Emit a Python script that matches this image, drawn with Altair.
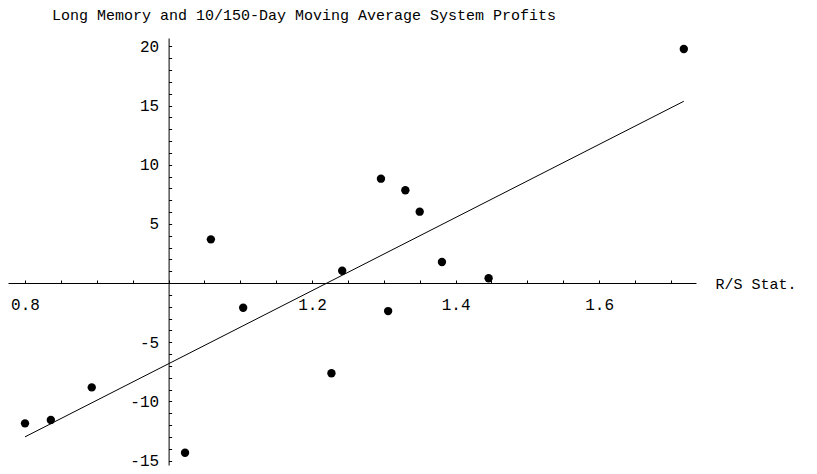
import altair as alt
import pandas as pd

# R/S statistic (x) and 10/150-day moving average system profit (y)
rs_stat = [0.800, 0.836, 0.893, 1.023, 1.059, 1.104, 1.227, 1.242, 1.296, 1.306,
           1.330, 1.350, 1.381, 1.446, 1.718]
profits = [-11.86, -11.58, -8.82, -14.34, 3.69, -2.09, -7.63, 1.04, 8.82, -2.37,
           7.84, 6.03, 1.78, 0.40, 19.78]

x_ticks = [0.8, 0.85, 0.9, 0.95, 1.0, 1.05, 1.1, 1.15, 1.2, 1.25, 1.3, 1.35,
           1.4, 1.45, 1.5, 1.55, 1.6, 1.65, 1.7]
x_labels = [0.8, 1.2, 1.4, 1.6]
y_ticks = [-15, -14, -13, -12, -11, -10, -9, -8, -7, -6, -5, -4, -3, -2, -1, 0,
           1, 2, 3, 4, 5, 6, 7, 8, 9, 10, 11, 12, 13, 14, 15, 16, 17, 18, 19, 20]
y_labels = [-15, -10, -5, 5, 10, 15, 20]

title_text = "Long Memory and 10/150-Day Moving Average System Profits"
x_title = "R/S Stat."

FONT = "Liberation Mono"
W, H = 688, 427
X_DOM = [0.7763, 1.7350]
Y_DOM = [-15.38, 20.71]

df = pd.DataFrame({"x": rs_stat, "y": profits})

x_lab_list = "[" + ",".join(str(v) for v in x_labels) + "]"
y_lab_list = "[" + ",".join(str(v) for v in y_labels) + "]"

x_axis = alt.Axis(
    orient="top", offset=-245, values=x_ticks,
    labelExpr=f"indexof({x_lab_list}, datum.value) >= 0 ? '' + datum.value : ''",
    labelBaseline="top", labelPadding=-16, tickSize=3, labelFlush=False,
    labelFont=FONT, labelFontSize=16, labelColor="black",
    domainColor="black", tickColor="black", grid=False,
    title=x_title, titleX=707, titleY=0, titleAlign="left", titleBaseline="middle",
    titleAnchor="start", titleFont=FONT, titleFontSize=15, titleFontWeight="normal",
    titleColor="black", labelOverlap=False,
)
y_axis = alt.Axis(
    orient="right", offset=-527.4, values=y_ticks,
    labelExpr=f"indexof({y_lab_list}, datum.value) >= 0 ? '' + datum.value : ''",
    labelAlign="right", labelBaseline="middle", labelPadding=-13, tickSize=3,
    labelFlush=False, labelOverlap=False,
    labelFont=FONT, labelFontSize=16, labelColor="black",
    domainColor="black", tickColor="black", grid=False, title=None,
)

base = alt.Chart(df).encode(
    x=alt.X("x:Q", scale=alt.Scale(domain=X_DOM, nice=False, zero=False), axis=x_axis),
    y=alt.Y("y:Q", scale=alt.Scale(domain=Y_DOM, nice=False, zero=False), axis=y_axis),
)

points = base.mark_circle(size=70, color="black", opacity=1)
fit = base.transform_regression("x", "y").mark_line(color="black", strokeWidth=1)

chart = alt.layer(fit, points).properties(
    width=W, height=H,
    background="white",
    autosize=alt.AutoSizeParams(type="none"),
    padding={"left": 0, "top": 30, "right": 105, "bottom": 6},
    title=alt.TitleParams(
        title_text, anchor="start", frame="group", dx=44, dy=12, offset=15,
        baseline="alphabetic", font=FONT, fontSize=15, fontWeight="normal",
        color="black",
    ),
).configure_view(strokeWidth=0)

chart.save("out.html", embed_options={"renderer": "svg", "actions": False})
